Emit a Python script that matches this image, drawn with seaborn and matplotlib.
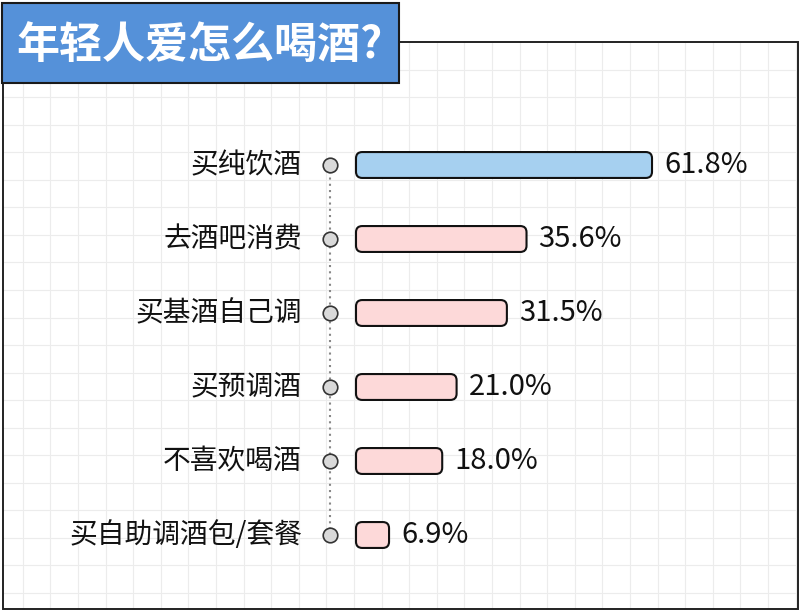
import numpy as np
import pandas as pd
import seaborn as sns
import matplotlib.pyplot as plt
from matplotlib.patches import FancyBboxPatch, Rectangle

# Data
categories = ['买纯饮酒', '去酒吧消费', '买基酒自己调', '买预调酒', '不喜欢喝酒', '买自助调酒包/套餐']
shares = [61.8, 35.6, 31.5, 21.0, 18.0, 6.9]
value_labels = ['61.8%', '35.6%', '31.5%', '21.0%', '18.0%', '6.9%']
bar_colors = ['#A6D0F0', '#FDD9D9', '#FDD9D9', '#FDD9D9', '#FDD9D9', '#FDD9D9']
title = '年轻人爱怎么喝酒?'

df = pd.DataFrame({'cat': categories, 'share': shares})

sns.set_style('white')
plt.rcParams['font.family'] = ['Noto Sans CJK SC', 'DejaVu Sans']

W, H = 802, 612
fig = plt.figure(figsize=(W / 100, H / 100), dpi=100)

# background layer in pixel coords: grid, frame, title box
bg = fig.add_axes([0, 0, 1, 1])
bg.set_xlim(0, W)
bg.set_ylim(H, 0)
bg.axis('off')
fx0, fy0, fx1, fy1 = 3, 42, 798, 609
bg.vlines(np.arange(22.8, fx1, 27.6), fy0, fy1, color='#ECECEC', lw=0.8, zorder=1)
bg.hlines(np.arange(fy0 + 27.55, fy1, 27.55), fx0, fx1, color='#ECECEC', lw=0.8, zorder=1)
bg.add_patch(Rectangle((fx0, fy0), fx1 - fx0, fy1 - fy0, fill=False,
                       edgecolor='#222222', lw=1.4, zorder=2))
bg.add_patch(Rectangle((2, 3), 397, 80, facecolor='#5591D9',
                       edgecolor='#1A1A1A', lw=1.5, zorder=3))
bg.text(200, 45, title, ha='center', va='center', color='white',
        fontsize=31, fontweight='bold', zorder=4)

# chart layer
ax = fig.add_axes([fx0 / W, 1 - fy1 / H, (fx1 - fx0) / W, (fy1 - fy0) / H])
ax.patch.set_alpha(0)
sns.barplot(data=df, x='share', y='cat', hue='cat', palette=bar_colors,
            orient='h', width=0.35, saturation=1, legend=False, ax=ax)

xpx = 4.79   # px per percent
ypx = 74.0   # px per category
ax.set_xlim(-(356 - fx0) / xpx, (fx1 - 356) / xpx)
ax.set_ylim((fy1 - 165) / ypx, (fy0 - 165) / ypx)

# swap plain bars for rounded ones
for p in list(ax.patches):
    x, y, w, h = p.get_x(), p.get_y(), p.get_width(), p.get_height()
    fc = p.get_facecolor()
    p.remove()
    ax.add_patch(FancyBboxPatch((x, y), w, h,
                                boxstyle='round,pad=0,rounding_size=1.3',
                                mutation_aspect=(1 / ypx) / (1 / xpx),
                                facecolor=fc, edgecolor='#111111', lw=1.5, zorder=3))

dot_x = (330 - 356) / xpx
ypos = np.arange(len(categories))
ax.plot([dot_x, dot_x], [ypos[0], ypos[-1]], ls=(0, (1, 2)), color='#888888', lw=1.5, zorder=2)
ax.scatter([dot_x] * len(ypos), ypos, s=110, facecolor='#D9D9D9',
           edgecolor='#333333', lw=1.2, zorder=4)

for i, (cat, v, lab) in enumerate(zip(categories, shares, value_labels)):
    ax.text((302 - 356) / xpx, i, cat, ha='right', va='center', fontsize=20, color='#111111')
    ax.text(v + 12 / xpx, i, lab, ha='left', va='center', fontsize=21, color='#111111')

ax.axis('off')

fig.savefig('out.png', dpi=100)
